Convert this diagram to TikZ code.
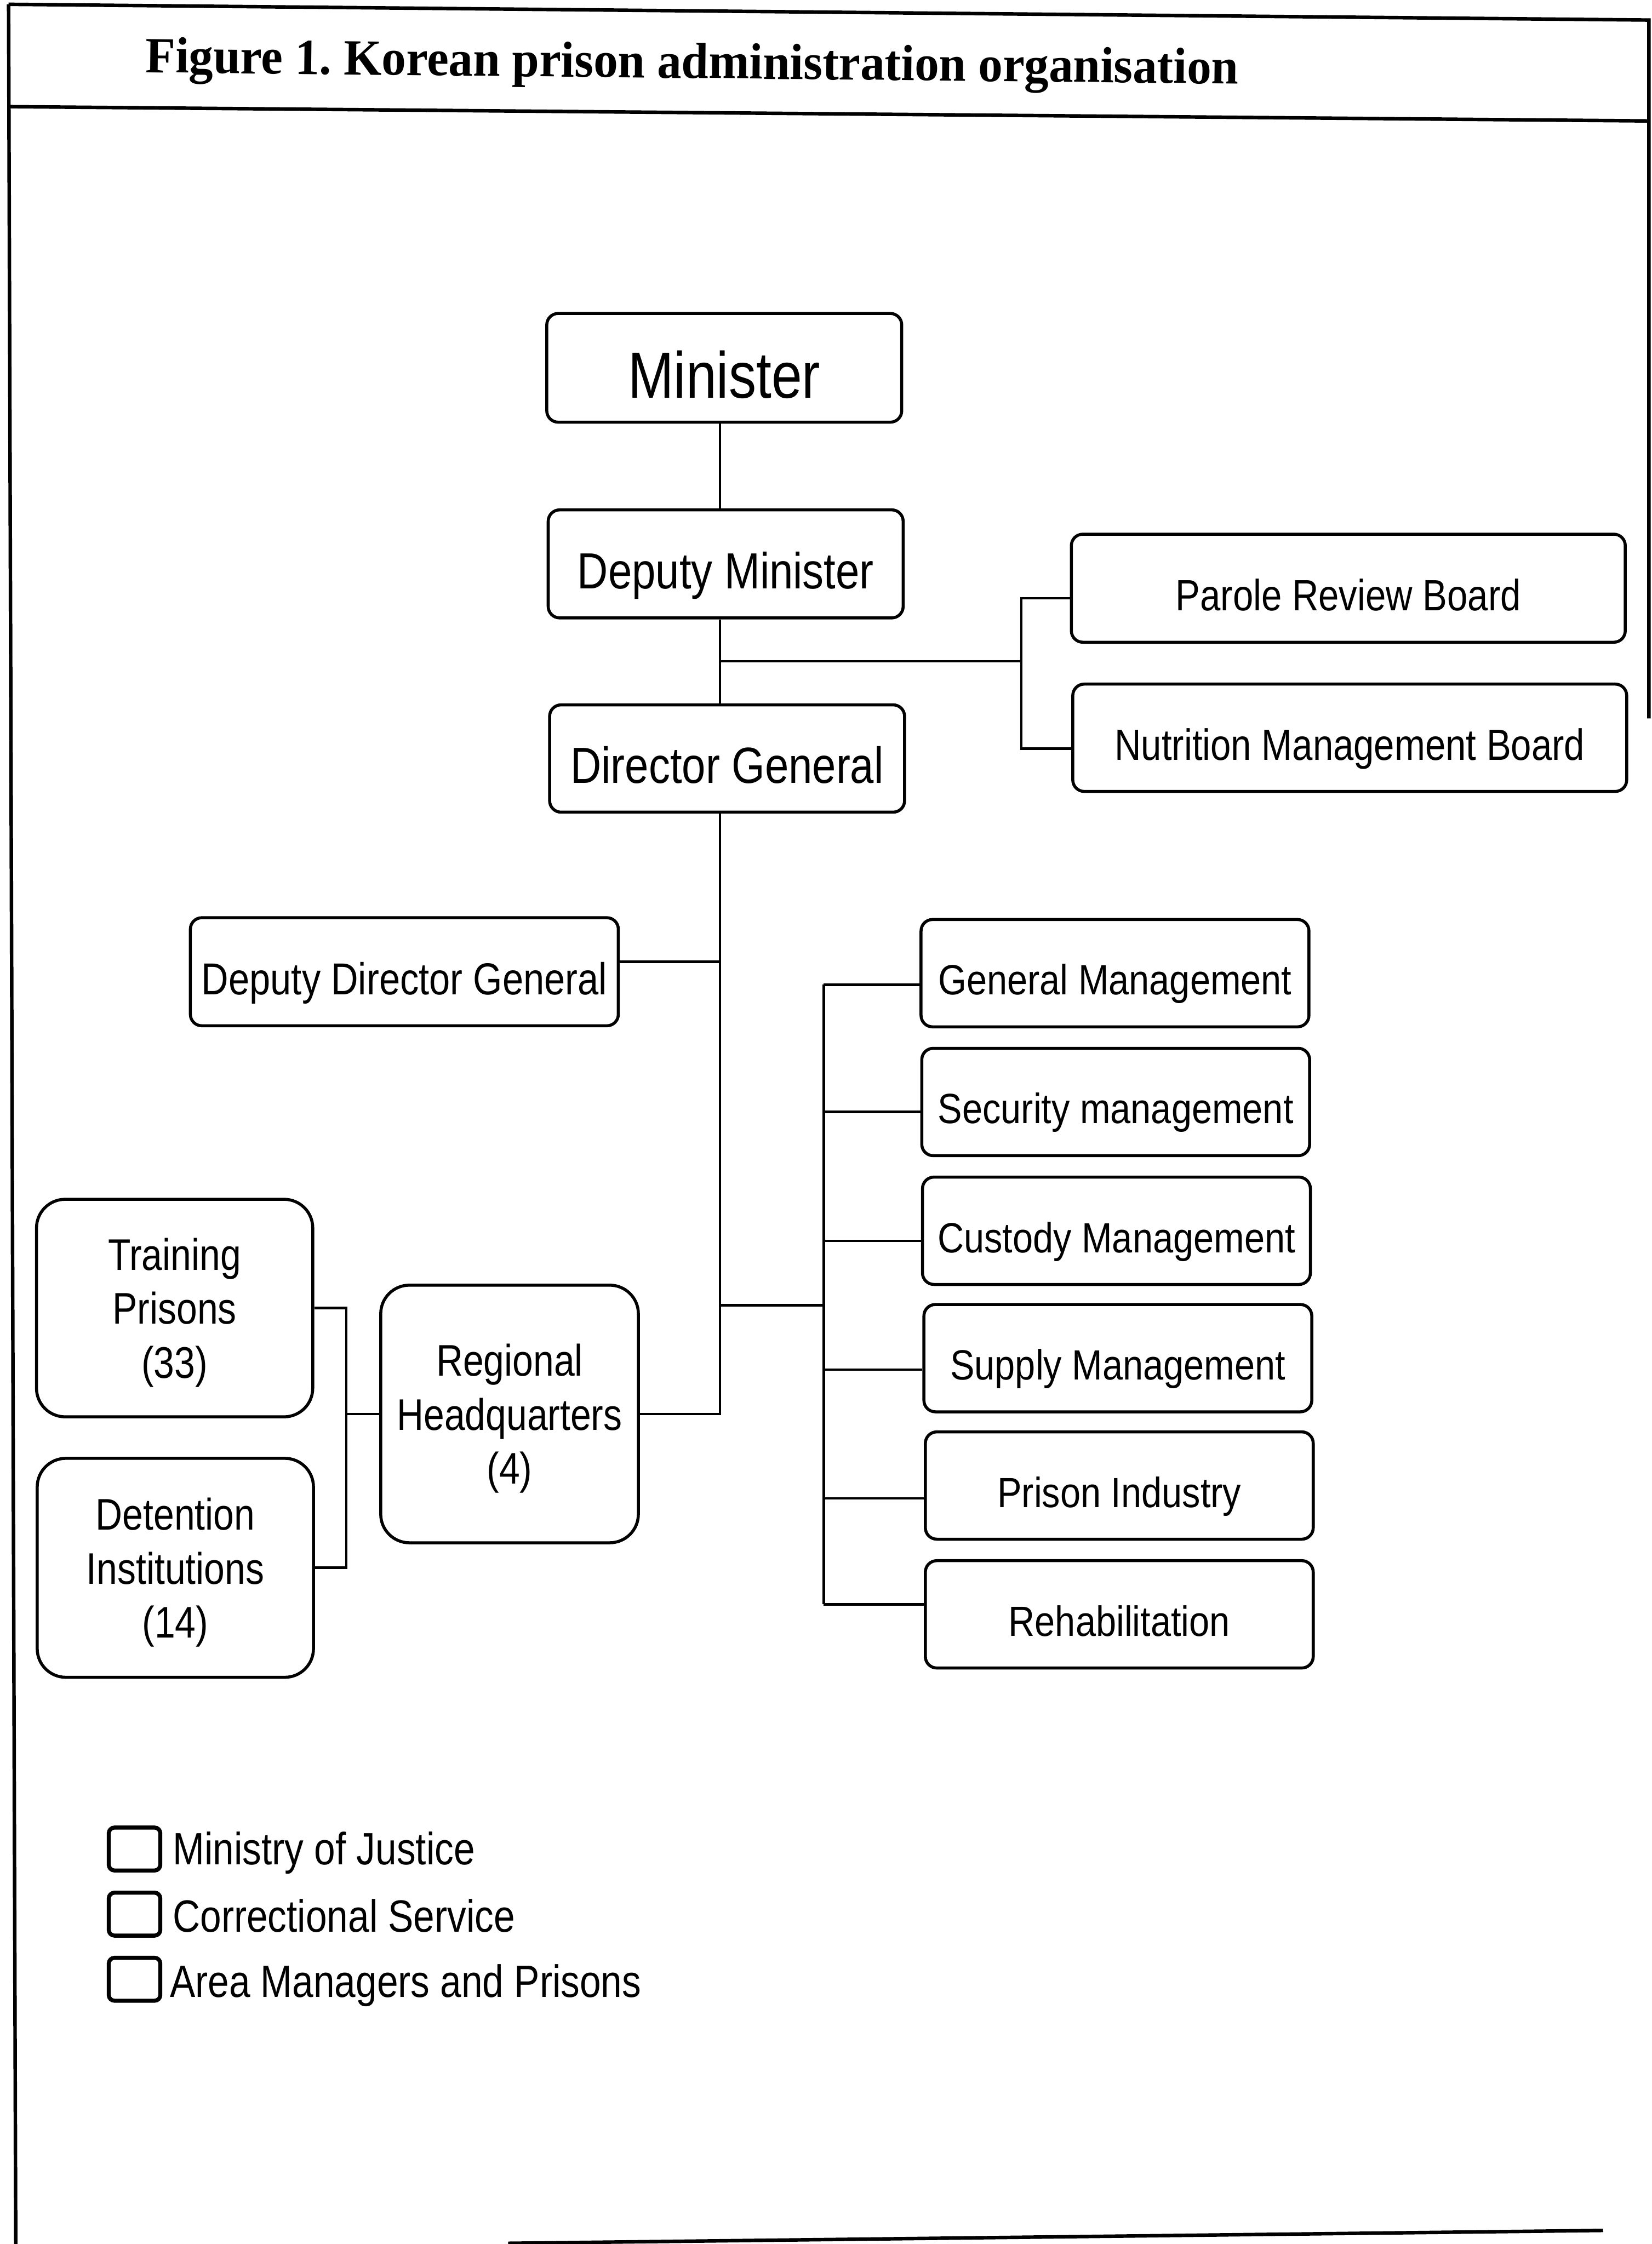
\documentclass[tikz,border=0pt]{standalone}
\usepackage{fontspec}
\setmainfont{Liberation Sans}
\newfontfamily\narrowsans{Liberation Sans}[FakeStretch=0.84]
\newfontfamily\deptsans{Liberation Sans}[FakeStretch=0.865]
\newfontfamily\titleserif{Liberation Serif}[FakeStretch=0.96]
\usepackage{tikz}

\begin{document}
\begin{tikzpicture}[x=0.1mm, y=-0.1mm,
  orgbox/.style={draw, line width=0.6pt, rounded corners=0.8mm, inner sep=0pt, align=center,
    text depth=0pt, text height=9.8pt, font=\narrowsans\fontsize{10.1}{12}\selectfont},
  deptbox/.style={orgbox, text height=8.6pt, font=\deptsans\fontsize{8.4}{10}\selectfont,
    minimum width=27.1mm, minimum height=7.5mm},
  prisonbox/.style={orgbox, text height={}, rounded corners=2mm, font=\narrowsans\fontsize{8.8}{10.7}\selectfont},
  keybox/.style={draw, line width=0.8pt, rounded corners=0.4mm, minimum width=3.6mm, minimum height=3mm, inner sep=0pt},
  keytext/.style={anchor=base west, inner sep=0pt, font=\narrowsans\fontsize{9}{11}\selectfont},
  wire/.style={line width=0.5pt},
  borderline/.style={line width=0.7pt}]
\useasboundingbox (0,0) rectangle (1154,1568);

% frame and title
\draw[borderline] (6,3) -- (1152,14) -- (1152,502);
\draw[borderline] (6,3) -- (11,1568);
\draw[borderline] (6,74.5) -- (1152,84.5);
\draw[borderline] (355,1567.5) -- (1120,1558.5);
\node[anchor=base west, inner sep=0pt, rotate=-0.6, font=\titleserif\bfseries\fontsize{10.1}{12}\selectfont]
  (title) at (101,50.6) {Figure 1.\ Korean prison administration organisation};

% ministry
\node[orgbox, minimum width=24.8mm, minimum height=7.6mm, text height=11.9pt, font=\narrowsans\fontsize{13}{15}\selectfont]
  (min) at (506,257) {Minister};
\node[orgbox, minimum width=24.8mm, minimum height=7.55mm] (dmin) at (507,394) {Deputy Minister};
\node[orgbox, minimum width=24.8mm, minimum height=7.5mm] (dg) at (508,530) {Director General};
\node[orgbox, minimum width=38.7mm, minimum height=7.55mm, text height=8.8pt, font=\narrowsans\fontsize{8.7}{10}\selectfont]
  (prb) at (942,411) {Parole Review Board};
\node[orgbox, minimum width=38.7mm, minimum height=7.5mm, text height=8.8pt, font=\narrowsans\fontsize{8.7}{10}\selectfont]
  (nmb) at (943,515.5) {Nutrition Management Board};
\node[orgbox, minimum width=29.9mm, minimum height=7.55mm, text height=9pt, font=\narrowsans\fontsize{8.9}{10}\selectfont]
  (ddg) at (282.5,679) {Deputy Director General};

% departments
\node[deptbox] (gm) at (779,680) {General Management};
\node[deptbox] (sm) at (779.5,770) {Security management};
\node[deptbox] (cm) at (780,860) {Custody Management};
\node[deptbox] (spm) at (781,949) {Supply Management};
\node[deptbox] (pi) at (782,1038) {Prison Industry};
\node[deptbox] (reh) at (782,1128) {Rehabilitation};

% regions and prisons
\node[prisonbox, minimum width=19.3mm, minimum height=15.2mm] (tp) at (122,914) {Training\\Prisons\\(33)};
\node[prisonbox, minimum width=19.3mm, minimum height=15.3mm] (di) at (122.5,1095.5) {Detention\\Institutions\\(14)};
\node[prisonbox, minimum width=18mm, minimum height=18mm] (rhq) at (356,988) {Regional\\Headquarters\\(4)};

% key
\node[keybox] (key1) at (94,1292) {};
\node[keybox] (key2) at (94,1337.5) {};
\node[keybox] (key3) at (94,1383) {};
\node[keytext] (moj) at (120,1303) {Ministry of Justice};
\node[keytext] (cs) at (120,1350) {Correctional Service};
\node[keytext] (amp) at (118,1395.6) {Area Managers and Prisons};

% connectors
\coordinate (trunk) at (503,0);
\coordinate (jb) at (713.5,462);
\coordinate (jd) at (575.5,912);
\coordinate (lbus) at (242,988);
\draw[wire] (trunk |- min.south) -- (trunk |- dmin.north);
\draw[wire] (trunk |- dmin.south) -- (trunk |- dg.north);
\draw[wire] (trunk |- jb) -- (jb);
\path ([yshift=-0.7mm]prb.west) coordinate (cprb) ([yshift=-0.75mm]nmb.west) coordinate (cnmb);
\draw[wire] (cprb) -| (jb) |- (cnmb);
\draw[wire] (trunk |- dg.south) |- (rhq.east);
\path ([yshift=0.7mm]ddg.east) coordinate (cddg);
\draw[wire] (cddg) -- (trunk |- cddg);
\draw[wire] (trunk |- jd) -- (jd);
\foreach \n/\s in {gm/-0.8, sm/-0.7, cm/-0.7, spm/-0.8, pi/-0.9, reh/0.7} {
  \path ([yshift=\s mm]\n.west) coordinate (c\n);
  \draw[wire] (c\n) -- (jd |- c\n);
}
\draw[wire] (jd |- cgm) -- (jd |- creh);
\draw[wire] (rhq.west) -- (lbus);
\draw[wire] (tp.east) -| (lbus) |- (di.east);
\end{tikzpicture}
\end{document}
